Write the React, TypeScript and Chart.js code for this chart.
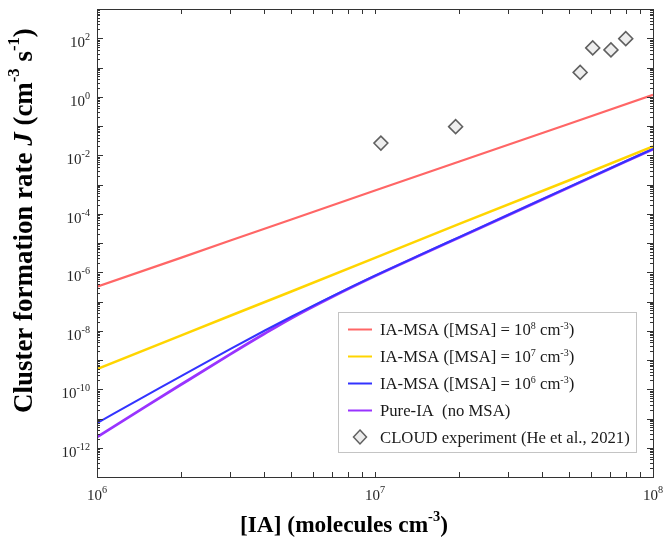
import React, { useEffect, useRef } from 'react';
import { Chart, registerables } from 'chart.js';

Chart.register(...registerables);

// ---------- data ----------
const iaConc = [1e6, 2e6, 3e6, 5e6, 1e7, 2e7, 5e7, 1e8];
const jMsa1e8 = [3.2e-7, 3.1e-6, 1.2e-5, 6.4e-5, 6.2e-4, 6.0e-3, 0.12, 1.17];
const jMsa1e7 = [4.9e-10, 6.8e-9, 3.2e-8, 2.2e-7, 3.1e-6, 4.4e-5, 1.4e-3, 0.02];

const iaConcFine = [1e6, 1.5e6, 2e6, 3e6, 4e6, 5e6, 7e6, 1e7, 1.5e7, 2e7, 3e7, 5e7, 1e8];
const jMsa1e6 = [7.0e-12, 6.0e-11, 2.77e-10, 2.32e-9, 1.0e-8, 3.01e-8, 1.5e-7, 7.64e-7, 4.49e-6, 1.56e-5, 9.0e-5, 8.26e-4, 0.0166];
const jPureIA = [2.3e-12, 2.59e-11, 1.42e-10, 1.53e-9, 7.9e-9, 2.69e-8, 1.43e-7, 7.46e-7, 4.39e-6, 1.52e-5, 8.8e-5, 8.1e-4, 0.0162];

const cloudIA = [1.05e7, 1.95e7, 5.47e7, 6.07e7, 7.06e7, 7.98e7];
const cloudJ = [0.026, 0.095, 6.8, 46.8, 40, 97];

const xTickExps = [6, 7, 8];
const yTickExps = [-12, -10, -8, -6, -4, -2, 0, 2];

const seriesLabels = [
  'IA-MSA ([MSA] = 10^{8} cm^{-3})',
  'IA-MSA ([MSA] = 10^{7} cm^{-3})',
  'IA-MSA ([MSA] = 10^{6} cm^{-3})',
  'Pure-IA  (no MSA)',
  'CLOUD experiment (He et al., 2021)',
];
const seriesColors = ['#ff6666', '#ffd500', '#3333ff', '#9933ff', '#606060'];
const xTitle = '[IA] (molecules cm^{-3})';
const yTitle = 'Cluster formation rate ~{J} (cm^{-3} s^{-1})';

const FONT = '"Liberation Serif", "Times New Roman", serif';

type Seg = { t: string; sup?: boolean; it?: boolean };

function parseRich(s: string): Seg[] {
  return s
    .split(/(\^\{[^}]*\}|~\{[^}]*\})/)
    .filter((p) => p.length > 0)
    .map((p) =>
      p.startsWith('^{')
        ? { t: p.slice(2, -1), sup: true }
        : p.startsWith('~{')
        ? { t: p.slice(2, -1), it: true }
        : { t: p }
    );
}

function fontFor(s: Seg, size: number, weight: string, supScale: number) {
  const sz = s.sup ? size * supScale : size;
  return `${s.it ? 'italic ' : ''}${weight} ${sz}px ${FONT}`;
}

function richWidth(ctx: CanvasRenderingContext2D, segs: Seg[], size: number, weight: string, supScale: number) {
  let w = 0;
  for (const s of segs) {
    ctx.font = fontFor(s, size, weight, supScale);
    w += ctx.measureText(s.t).width;
  }
  return w;
}

function drawRich(
  ctx: CanvasRenderingContext2D,
  segs: Seg[],
  x: number,
  y: number,
  size: number,
  weight: string,
  supScale: number,
  supRise: number,
  align: 'left' | 'center' | 'right'
) {
  const total = richWidth(ctx, segs, size, weight, supScale);
  let cx = align === 'right' ? x - total : align === 'center' ? x - total / 2 : x;
  ctx.textAlign = 'left';
  ctx.textBaseline = 'alphabetic';
  for (const s of segs) {
    ctx.font = fontFor(s, size, weight, supScale);
    ctx.fillText(s.t, cx, s.sup ? y - supRise : y);
    cx += ctx.measureText(s.t).width;
  }
}

const decorPlugin = {
  id: 'decor',
  afterDraw(chart: any) {
    const ctx: CanvasRenderingContext2D = chart.ctx;
    const { left, right, top, bottom } = chart.chartArea;
    const xs = chart.scales.x;
    const ys = chart.scales.y;
    ctx.save();
    // frame
    ctx.strokeStyle = '#333333';
    ctx.lineWidth = 1;
    ctx.strokeRect(Math.round(left) + 0.5, Math.round(top) + 0.5, Math.round(right - left), Math.round(bottom - top));
    ctx.beginPath();
    // x ticks
    for (let d = 6; d <= 7; d++) {
      for (let m = 1; m <= 9; m++) {
        const v = m * Math.pow(10, d);
        const px = Math.round(xs.getPixelForValue(v)) + 0.5;
        const len = 5;
        ctx.moveTo(px, bottom);
        ctx.lineTo(px, bottom - len);
        ctx.moveTo(px, top);
        ctx.lineTo(px, top + len);
      }
    }
    // y ticks
    for (let d = -13; d <= 2; d++) {
      for (let m = 1; m <= 9; m++) {
        const v = m * Math.pow(10, d);
        const py = Math.round(ys.getPixelForValue(v)) + 0.5;
        const len = m === 1 ? 6 : 3;
        ctx.moveTo(left, py);
        ctx.lineTo(left + len, py);
        ctx.moveTo(right, py);
        ctx.lineTo(right - len, py);
      }
    }
    ctx.stroke();

    // tick labels
    ctx.fillStyle = '#262626';
    for (const e of xTickExps) {
      const px = xs.getPixelForValue(Math.pow(10, e));
      drawRich(ctx, parseRich(`10^{${e}}`), px, 500, 15, 'normal', 0.68, 7, 'center');
    }
    for (const e of yTickExps) {
      const py = ys.getPixelForValue(Math.pow(10, e));
      drawRich(ctx, parseRich(`10^{${e}}`), 90, py + 9, 15, 'normal', 0.68, 7, 'right');
    }

    // axis titles
    ctx.fillStyle = '#000000';
    const xt = parseRich(xTitle);
    let sz = 24;
    sz = (sz * 208) / richWidth(ctx, xt, sz, 'bold', 0.62);
    drawRich(ctx, xt, 240, 532, sz, 'bold', 0.62, sz * 0.48, 'left');

    const yt = parseRich(yTitle);
    let ysz = 26;
    ysz = (ysz * 385) / richWidth(ctx, yt, ysz, 'bold', 0.62);
    ctx.save();
    ctx.translate(32, 413);
    ctx.rotate(-Math.PI / 2);
    drawRich(ctx, yt, 0, 0, ysz, 'bold', 0.62, ysz * 0.5, 'left');
    ctx.restore();

    // legend
    const lx = 338.5, ly = 312.5, lw = 298, lh = 140;
    ctx.fillStyle = '#ffffff';
    ctx.fillRect(lx, ly, lw, lh);
    ctx.strokeStyle = '#c4c4c4';
    ctx.lineWidth = 1;
    ctx.strokeRect(lx, ly, lw, lh);
    const rows = [329.5, 356.5, 383.5, 410.5, 437];
    seriesLabels.forEach((lab, i) => {
      const ry = rows[i];
      if (i < 4) {
        ctx.strokeStyle = seriesColors[i];
        ctx.lineWidth = 2;
        ctx.beginPath();
        ctx.moveTo(348, ry);
        ctx.lineTo(372, ry);
        ctx.stroke();
      } else {
        ctx.strokeStyle = '#606060';
        ctx.fillStyle = '#ececec';
        ctx.lineWidth = 1.5;
        ctx.beginPath();
        ctx.moveTo(360, ry - 7);
        ctx.lineTo(366.5, ry);
        ctx.lineTo(360, ry + 7);
        ctx.lineTo(353.5, ry);
        ctx.closePath();
        ctx.fill();
        ctx.stroke();
      }
      ctx.fillStyle = '#1a1a1a';
      drawRich(ctx, parseRich(lab), 380, ry + 5.5, 16.7, 'normal', 0.6, 6.5, 'left');
    });
    ctx.restore();
  },
};

export default function App() {
  const ref = useRef<HTMLCanvasElement | null>(null);
  useEffect(() => {
    if (!ref.current) return;
    const mk = (xs: number[], ys: number[]) => xs.map((x, i) => ({ x, y: ys[i] }));
    const chart = new Chart(ref.current, {
      type: 'line',
      data: {
        datasets: [
          {
            label: seriesLabels[4],
            data: mk(cloudIA, cloudJ),
            showLine: false,
            pointStyle: 'rectRot',
            pointRadius: 7,
            pointBorderWidth: 1.5,
            pointBorderColor: seriesColors[4],
            pointBackgroundColor: '#eeeeee',
            borderColor: seriesColors[4],
            backgroundColor: '#eeeeee',
          },
          { label: seriesLabels[0], data: mk(iaConc, jMsa1e8), borderColor: seriesColors[0], borderWidth: 2.2, pointRadius: 0 },
          { label: seriesLabels[1], data: mk(iaConc, jMsa1e7), borderColor: seriesColors[1], borderWidth: 2.5, pointRadius: 0 },
          { label: seriesLabels[2], data: mk(iaConcFine, jMsa1e6), borderColor: seriesColors[2], borderWidth: 2, pointRadius: 0, cubicInterpolationMode: 'monotone' },
          { label: seriesLabels[3], data: mk(iaConcFine, jPureIA), borderColor: seriesColors[3], borderWidth: 2.8, pointRadius: 0, cubicInterpolationMode: 'monotone' },
        ],
      },
      options: {
        animation: false,
        responsive: true,
        maintainAspectRatio: false,
        layout: { padding: { top: 9, right: 13, left: 0, bottom: 0 } },
        plugins: { legend: { display: false }, tooltip: { enabled: false } },
        scales: {
          x: {
            type: 'logarithmic',
            min: 1e6,
            max: 1e8,
            grid: { display: false },
            border: { display: false },
            ticks: { display: false },
            afterFit: (s: any) => {
              s.height = 64;
            },
          },
          y: {
            type: 'logarithmic',
            min: 1e-13,
            max: 1e3,
            grid: { display: false },
            border: { display: false },
            ticks: { display: false },
            afterFit: (s: any) => {
              s.width = 97;
            },
          },
        },
      } as any,
      plugins: [decorPlugin],
    });
    return () => chart.destroy();
  }, []);
  return (
    <div style={{ position: 'absolute', left: 0, top: 0, width: 666, height: 541, background: '#ffffff' }}>
      <canvas ref={ref} />
    </div>
  );
}
